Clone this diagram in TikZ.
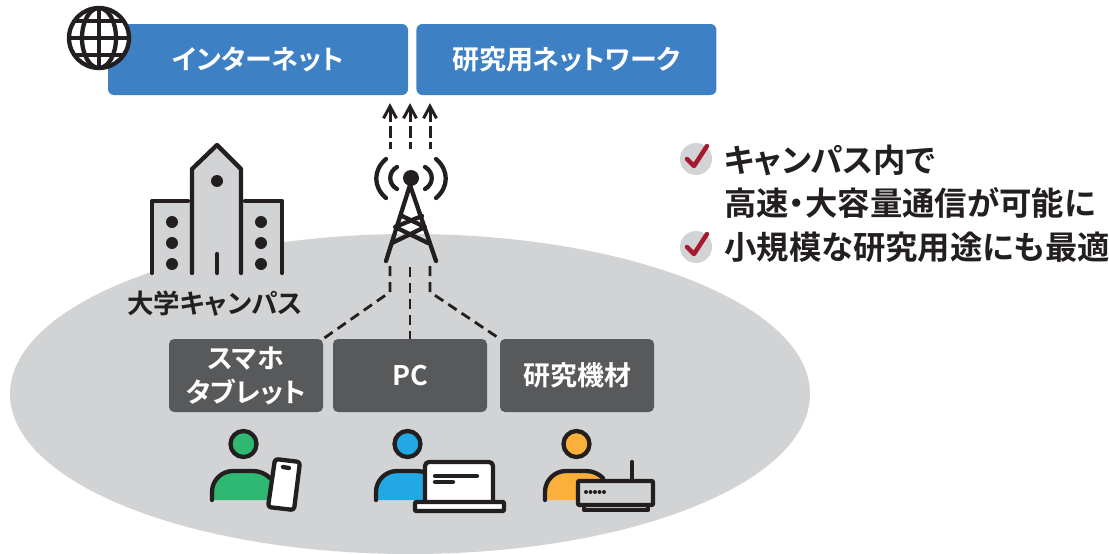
\documentclass[tikz,border=0pt]{standalone}
\usepackage{fontspec}
\setmainfont{Noto Sans CJK JP Bold}[RawFeature=+palt]
\usepackage{tikz}
\usetikzlibrary{positioning,arrows.meta}
\definecolor{campusgray}{HTML}{D1D3D4}
\definecolor{netblue}{HTML}{3D80C4}
\definecolor{boxgray}{HTML}{58595B}
\definecolor{inkblack}{HTML}{231F20}
\definecolor{checkred}{HTML}{A6192E}
\definecolor{persongreen}{HTML}{2EB872}
\definecolor{personblue}{HTML}{22A8E2}
\definecolor{personorange}{HTML}{FBB03B}
\tikzset{
    netbox/.style={fill=netblue,rounded corners=6pt,minimum width=300pt,minimum height=71pt,text=white,font=\fontsize{27}{30}\selectfont},
    devbox/.style={fill=boxgray,rounded corners=5pt,minimum width=154pt,minimum height=73pt,text=white,align=center,font=\fontsize{27}{34}\selectfont},
    icon/.style={draw=inkblack,line width=4.3pt,line cap=round,line join=round},
    link/.style={draw=inkblack,line width=2.8pt,dash pattern=on 10pt off 6pt},
    uplink/.style={draw=inkblack,line width=3pt,dash pattern=on 12pt off 4pt,dash phase=5pt,-{Straight Barb[length=12pt,width=13pt]}},
    point/.style={anchor=west,inner sep=0pt,text=inkblack,align=left,font=\fontsize{32.4}{43}\selectfont},
    tick/.style={draw=checkred,line width=4.5pt,line cap=round,line join=round}
}
\newcommand{\personicon}[2]{
    \fill[#2] (#1,500) -- ++(0,-8) arc[start angle=180,end angle=90,radius=21pt] -- ++(20,0) arc[start angle=90,end angle=45,radius=24pt] |- (#1,500) -- cycle;
    \draw[icon] (#1,500) -- ++(0,-8) arc[start angle=180,end angle=90,radius=21pt] -- ++(20,0) arc[start angle=90,end angle=45,radius=24pt];
    \draw[icon,fill=#2] (#1+31.5,444) circle[radius=13pt];
}
\begin{document}
\begin{tikzpicture}[x=1pt,y=-1pt]
    \useasboundingbox (0,0) rectangle (1109,554);
    \fill[campusgray] (410,394) ellipse[x radius=400pt,y radius=160pt];
    % upper networks
    \node[netbox] (internet) at (258,59.5) {インターネット};
    \node[netbox,right=8pt of internet] (research) {研究用ネットワーク};
    % globe
    \draw[icon,fill=white] (99,38) circle[radius=30pt];
    \begin{scope}
        \clip (99,38) circle[radius=30pt];
        \draw[icon] (99,8) -- (99,68);
        \draw[icon] (69,38) -- (129,38);
        \draw[icon] (69,21) -- (129,21);
        \draw[icon] (69,55) -- (129,55);
        \draw[icon] (99,38) ellipse[x radius=17pt,y radius=30pt];
    \end{scope}
    % building
    \fill[campusgray] (152,273) -- (152,201) -- (192,201) -- (192,169) -- (217,145) -- (241,169) -- (241,201) -- (282,201) -- (282,273) -- cycle;
    \draw[icon] (192,273) -- (192,169) -- (217,145) -- (241,169) -- (241,273);
    \draw[icon] (152,273) -- (152,201) -- (188,201);
    \draw[icon] (245,201) -- (282,201) -- (282,273);
    \draw[icon] (217,254) -- (217,273);
    \fill[inkblack] (217,181) circle[radius=6pt];
    \foreach \y in {222,243,264} {
        \fill[inkblack] (172,\y) circle[radius=6pt];
        \fill[inkblack] (261,\y) circle[radius=6pt];
    }
    \node[inner sep=0pt,text=inkblack,font=\fontsize{26.5}{30}\selectfont] (campus) at (215,304) {大学キャンパス};
    % tower
    \fill[inkblack] (411,178) circle[radius=8pt];
    \draw[icon] (386,261) -- (410,185) -- (436,261);
    \draw[icon] (402,216) -- (425,227) -- (392,243);
    \draw[icon] (422,216) -- (395,227) -- (428,243);
    \draw[icon] (397,167) .. controls (388,172) and (388,184) .. (397,189);
    \draw[icon] (386,159) .. controls (373,170) and (373,187) .. (386,198);
    \draw[icon] (425,167) .. controls (434,172) and (434,184) .. (425,189);
    \draw[icon] (436,159) .. controls (449,170) and (449,187) .. (436,198);
    % devices
    \node[devbox] (mobile) at (246,375.5) {スマホ\\タブレット};
    \node[devbox] (pc) at (410,375.5) {PC};
    \node[devbox] (equipment) at (577,375.5) {研究機材};
    % links
    \coordinate (upa) at (390,149);
    \coordinate (upb) at (410,149);
    \coordinate (upc) at (430,149);
    \coordinate (downa) at (390,266);
    \coordinate (downb) at (410,267);
    \coordinate (downc) at (430,266);
    \draw[uplink,shorten >=8pt] (upa) -- (upa |- internet.south);
    \draw[uplink,shorten >=8pt] (upb) -- (upb |- internet.south);
    \draw[uplink,shorten >=8pt] (upc) -- (upc |- internet.south);
    \draw[link] (downa) -- (390,292) -- (mobile.north east);
    \draw[link] (downb) -- (pc.north);
    \draw[link] (downc) -- (430,292) -- (equipment.north west);
    % people
    \personicon{212}{persongreen}
    \personicon{376}{personblue}
    \personicon{545}{personorange}
    % phone
    \draw[icon,fill=white,rounded corners=3pt] (275,459) -- (300,462) -- (294,510) -- (268,507) -- cycle;
    \draw[icon] (283,467) -- (289,468);
    % laptop
    \draw[icon,fill=white,rounded corners=4pt] (425,502) -- (425,462) -- (493,462) -- (493,502);
    \draw[icon,fill=white,rounded corners=1pt] (415,502) rectangle (504,511);
    \draw[icon] (435,476) -- (477,476);
    \draw[icon] (435,482) -- (453,482);
    % router
    \draw[icon] (632,462) -- (632,481);
    \draw[icon,fill=campusgray,rounded corners=1pt] (578,481) rectangle (653,505);
    \draw[icon] (584,505) -- (584,510) -- (648,510) -- (648,505);
    \foreach \x in {586,590.5,595,599.5,604} {
        \fill[inkblack] (\x,492) circle[radius=2pt];
    }
    % points
    \fill[campusgray] (696,159) circle[radius=16pt];
    \draw[tick] (687,159) -- (694,166) -- (707,146);
    \node[point] (speed) at (724,182) {キャンパス内で\\高速・大容量通信が可能に};
    \fill[campusgray] (696,247) circle[radius=16pt];
    \draw[tick] (687,247) -- (694,254) -- (707,234);
    \node[point] (small) at (724,247) {小規模な研究用途にも最適};
\end{tikzpicture}
\end{document}
